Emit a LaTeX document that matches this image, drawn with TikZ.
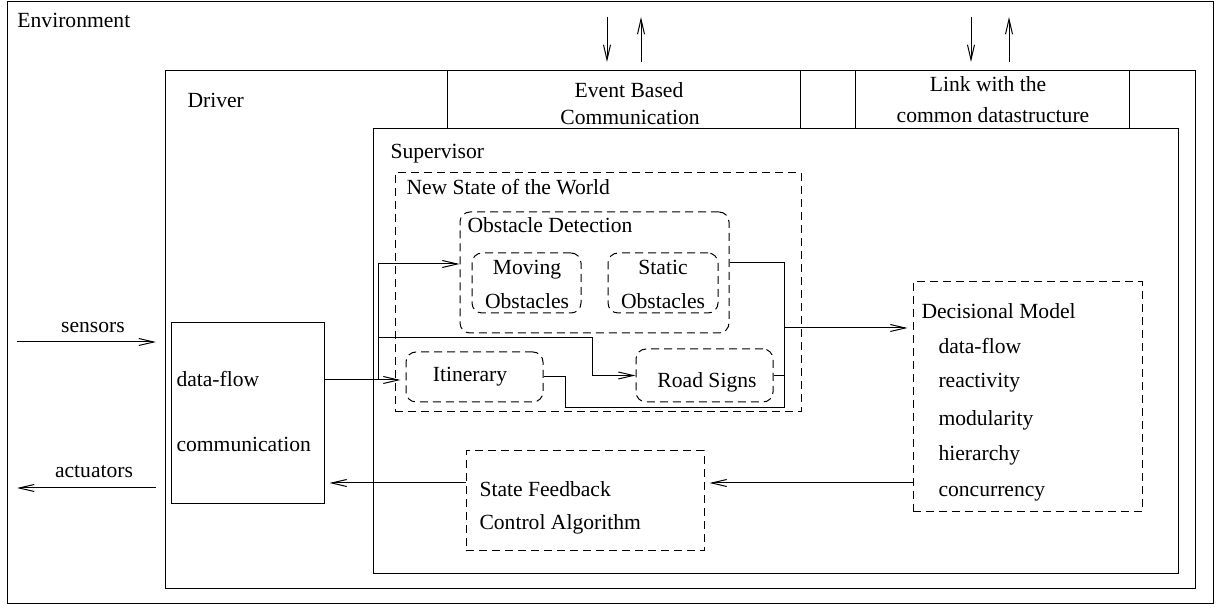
\documentclass[tikz,border=0pt]{standalone}
\usepackage{fontspec}
\setmainfont{Liberation Serif}
\usetikzlibrary{arrows.meta,fit,calc}
\begin{document}
\begin{tikzpicture}[x=0.5pt,y=-0.5pt,
  line width=0.5pt,
  >={Straight Barb[length=7.5pt,width=3.5pt]},
  box/.style={draw, rectangle, inner sep=0pt},
  dbox/.style={box, dash pattern=on 4pt off 2.5pt},
  rbox/.style={dbox, rounded corners=5pt},
  txt/.style={font=\fontsize{10.8}{13}\selectfont, inner sep=0pt},
  gap/.style={shorten >=2.5pt}]
\useasboundingbox (0,0) rectangle (1221,608);

% boxes
\node[box, fit={(7,2) (1213,604)}] (env) {};
\node[box, fit={(165,71) (1195,589)}] (drv) {};
\node[box, fit={(447,71) (800,129)}] (ebc) {};
\node[box, fit={(855,71) (1129,129)}] (link) {};
\node[box, fit={(373,129) (1178,574)}] (sup) {};
\node[dbox, fit={(395,173) (801,412)}] (nsw) {};
\node[rbox, fit={(460,212) (729,333)}] (od) {};
\node[rbox, fit={(472,253) (581,313)}] (mo) {};
\node[rbox, fit={(608,253) (718,313)}] (so) {};
\node[rbox, fit={(406,352) (543,402)}] (itin) {};
\node[rbox, fit={(636,349) (773,402)}] (rs) {};
\node[dbox, fit={(913,282) (1142,512)}] (dm) {};
\node[dbox, fit={(466,451) (704,551)}] (sf) {};
\node[box, fit={(171,323) (324,504)}] (df) {};

% texts
\node[txt, anchor=base west] (tenv) at (17,28) {Environment};
\node[txt, anchor=base west] (tdrv) at (187,108) {Driver};
\node[txt, anchor=base] (tebc1) at (629,98) {Event Based};
\node[txt, anchor=base] (tebc2) at (630,125) {Communication};
\node[txt, anchor=base] (tlink1) at (988,92) {Link with the};
\node[txt, anchor=base] (tlink2) at (993,123) {common datastructure};
\node[txt, anchor=base west] (tsup) at (390,159) {Supervisor};
\node[txt, anchor=base west] (tnsw) at (406,195) {New State of the World};
\node[txt, anchor=base west] (tod) at (467,233) {Obstacle Detection};
\node[txt, anchor=base] (tmo1) at (527,275) {Moving};
\node[txt, anchor=base] (tmo2) at (527,309) {Obstacles};
\node[txt, anchor=base] (tso1) at (663,275) {Static};
\node[txt, anchor=base] (tso2) at (663,309) {Obstacles};
\node[txt, anchor=base] (titin) at (470,382) {Itinerary};
\node[txt, anchor=base] (trs) at (707,388) {Road Signs};
\node[txt, anchor=base west] (tdm) at (921,319) {Decisional Model};
\node[txt, anchor=base west] (tdm1) at (938,354) {data-flow};
\node[txt, anchor=base west] (tdm2) at (938,388) {reactivity};
\node[txt, anchor=base west] (tdm3) at (938,426) {modularity};
\node[txt, anchor=base west] (tdm4) at (938,461) {hierarchy};
\node[txt, anchor=base west] (tdm5) at (938,497) {concurrency};
\node[txt, anchor=base west] (tsf1) at (479,497) {State Feedback};
\node[txt, anchor=base west] (tsf2) at (479,530) {Control Algorithm};
\node[txt, anchor=base west] (tdf1) at (176,387) {data-flow};
\node[txt, anchor=base west] (tdf2) at (176,452) {communication};
\node[txt, anchor=base] (tsens) at (93,333) {sensors};
\node[txt, anchor=base] (tact) at (94,478) {actuators};

% coordinates for bends and free ends
\coordinate (dfo) at (0,380);
\coordinate (jx) at (378,264);
\coordinate (jr) at (592,338);
\coordinate (ox) at (784,263);
\coordinate (oy) at (565,408);
\coordinate (om) at (784,328);
\coordinate (fb) at (0,483);
\coordinate (sA) at (17,342);
\coordinate (sB) at (156,342);
\coordinate (aA) at (156,488);
\coordinate (aB) at (17,488);
\coordinate (e1t) at (607,17);
\coordinate (e1b) at (607,62);
\coordinate (e2t) at (641,17);
\coordinate (e2b) at (641,62);
\coordinate (l1t) at (971,17);
\coordinate (l1b) at (971,62);
\coordinate (l2t) at (1009,17);
\coordinate (l2b) at (1009,62);

% connectors
\draw[->, gap] (df.east |- dfo) -- (itin.west |- dfo);
\draw[->] (jx |- dfo) -- (jx) -- (od.west |- jx);
\draw[->] (jx |- jr) -- (jr) |- (rs.west);
\draw (itin.east) -| (oy) -| (ox) -- (od.east |- ox);
\draw (rs.east) -- (rs.east -| ox);
\draw[->, gap] (om) -- (dm.west |- om);
\draw[->, gap] (dm.west |- fb) -- (sf.east |- fb);
\draw[->, gap] (sf.west |- fb) -- (df.east |- fb);
\draw[->] (sA) -- (sB);
\draw[->] (aA) -- (aB);
\draw[->] (e1t) -- (e1b);
\draw[->] (e2b) -- (e2t);
\draw[->] (l1t) -- (l1b);
\draw[->] (l2b) -- (l2t);
\end{tikzpicture}
\end{document}
